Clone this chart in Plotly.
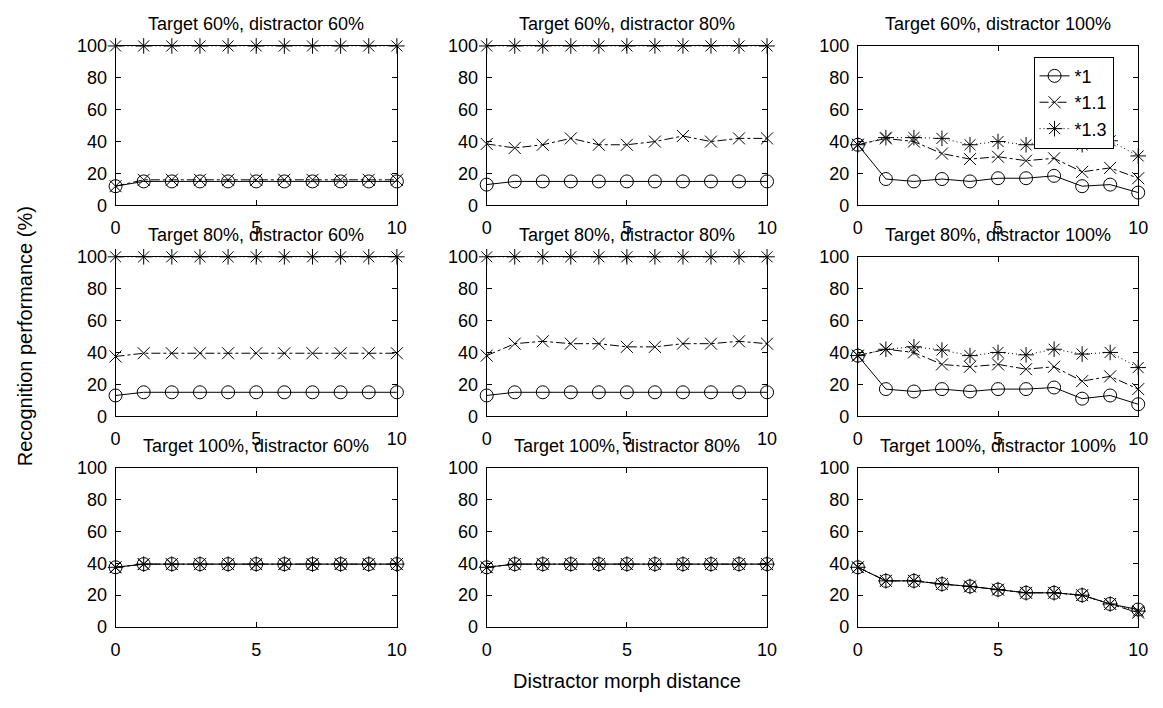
import plotly.graph_objects as go

# ---------------- data ----------------
distance = [0, 1, 2, 3, 4, 5, 6, 7, 8, 9, 10]
series_names = ["*1", "*1.1", "*1.3"]
panel_titles = [
    "Target 60%, distractor 60%", "Target 60%, distractor 80%", "Target 60%, distractor 100%",
    "Target 80%, distractor 60%", "Target 80%, distractor 80%", "Target 80%, distractor 100%",
    "Target 100%, distractor 60%", "Target 100%, distractor 80%", "Target 100%, distractor 100%",
]
x_ticks = [0, 5, 10]
y_ticks = [0, 20, 40, 60, 80, 100]

# Target 60%
t60_d60_s1 = [12, 15, 15, 15, 15, 15, 15, 15, 15, 15, 15]
t60_d60_s11 = [12, 16, 16, 16, 16, 16, 16, 16, 16, 16, 16]
t60_d60_s13 = [100, 100, 100, 100, 100, 100, 100, 100, 100, 100, 100]

t60_d80_s1 = [13, 15, 15, 15, 15, 15, 15, 15, 15, 15, 15]
t60_d80_s11 = [38.5, 36, 38, 42, 38, 38, 40, 43.5, 40, 42, 42]
t60_d80_s13 = [100, 100, 100, 100, 100, 100, 100, 100, 100, 100, 100]

t60_d100_s1 = [38, 16.5, 15, 16.5, 15, 17, 17, 18.5, 12, 13, 8]
t60_d100_s11 = [38, 42, 40, 32.5, 29, 30.5, 28, 29.5, 21, 23.5, 17]
t60_d100_s13 = [38, 42.5, 42.5, 42, 38, 40, 38, 42, 38, 40.5, 31]

# Target 80%
t80_d60_s1 = [13, 15, 15, 15, 15, 15, 15, 15, 15, 15, 15]
t80_d60_s11 = [37.5, 39.5, 39.5, 39.5, 39.5, 39.5, 39.5, 39.5, 39.5, 39.5, 39.5]
t80_d60_s13 = [100, 100, 100, 100, 100, 100, 100, 100, 100, 100, 100]

t80_d80_s1 = [13, 15, 15, 15, 15, 15, 15, 15, 15, 15, 15]
t80_d80_s11 = [38, 45.5, 47, 45.5, 45.5, 43.5, 43.5, 45.5, 45.5, 47, 45.5]
t80_d80_s13 = [100, 100, 100, 100, 100, 100, 100, 100, 100, 100, 100]

t80_d100_s1 = [38, 17, 15.5, 17, 15.5, 17, 17, 18, 11, 13, 7.5]
t80_d100_s11 = [38, 42, 40, 32.5, 31, 32.5, 29.5, 31, 22, 25, 17]
t80_d100_s13 = [38, 42, 43.5, 41.5, 38, 40, 38.5, 42, 39, 40, 30.5]

# Target 100%
t100_d60_s1 = [37.5, 39.5, 39.5, 39.5, 39.5, 39.5, 39.5, 39.5, 39.5, 39.5, 39.5]
t100_d60_s11 = [37.5, 39.5, 39.5, 39.5, 39.5, 39.5, 39.5, 39.5, 39.5, 39.5, 39.5]
t100_d60_s13 = [37.5, 39.5, 39.5, 39.5, 39.5, 39.5, 39.5, 39.5, 39.5, 39.5, 39.5]

t100_d80_s1 = [37.5, 39.5, 39.5, 39.5, 39.5, 39.5, 39.5, 39.5, 39.5, 39.5, 39.5]
t100_d80_s11 = [37.5, 39.5, 39.5, 39.5, 39.5, 39.5, 39.5, 39.5, 39.5, 39.5, 39.5]
t100_d80_s13 = [37.5, 39.5, 39.5, 39.5, 39.5, 39.5, 39.5, 39.5, 39.5, 39.5, 39.5]

t100_d100_s1 = [37.5, 29, 29, 27, 25.5, 23.5, 21.5, 21.5, 20, 14.5, 11]
t100_d100_s11 = [37.5, 29, 29, 27, 25.5, 23.5, 21.5, 21.5, 20, 14.5, 9]
t100_d100_s13 = [37.5, 29, 29, 27, 25.5, 23.5, 21.5, 21.5, 20, 14.5, 10]

panels = [
    (t60_d60_s1, t60_d60_s11, t60_d60_s13),
    (t60_d80_s1, t60_d80_s11, t60_d80_s13),
    (t60_d100_s1, t60_d100_s11, t60_d100_s13),
    (t80_d60_s1, t80_d60_s11, t80_d60_s13),
    (t80_d80_s1, t80_d80_s11, t80_d80_s13),
    (t80_d100_s1, t80_d100_s11, t80_d100_s13),
    (t100_d60_s1, t100_d60_s11, t100_d60_s13),
    (t100_d80_s1, t100_d80_s11, t100_d80_s13),
    (t100_d100_s1, t100_d100_s11, t100_d100_s13),
]

# ---------------- layout geometry (pixels) ----------------
W, H = 1163, 708
col_px = [(112, 397), (488, 772), (864, 1148)]
row_px = [(37, 201), (254, 418), (471, 635)]
FONT = "Liberation Sans, Arial, Helvetica, sans-serif"

styles = [
    dict(symbol="circle-open", size=13, dash="solid"),
    dict(symbol="x-thin-open", size=12, dash="dashdot"),
    dict(symbol="asterisk-open", size=13, dash="1px,3px"),
]

fig = go.Figure()
layout_axes = {}
annotations = []

for i, series in enumerate(panels):
    r, c = divmod(i, 3)
    idx = i + 1
    xa = "x" if idx == 1 else f"x{idx}"
    ya = "y" if idx == 1 else f"y{idx}"
    for s, (vals, st) in enumerate(zip(series, styles)):
        fig.add_trace(go.Scatter(
            x=distance, y=vals, xaxis=xa, yaxis=ya,
            mode="lines+markers",
            name=series_names[s],
            showlegend=(i == 2),
            cliponaxis=False,
            line=dict(color="black", width=1, dash=st["dash"]),
            marker=dict(symbol=st["symbol"], size=st["size"], color="black",
                        line=dict(color="black", width=1)),
        ))
    x0, x1 = col_px[c]
    y0, y1 = row_px[r]
    axis_common = dict(
        showline=True, linecolor="black", linewidth=1, mirror="ticks",
        ticks="inside", ticklen=5, tickcolor="black", tickwidth=1,
        showgrid=False, zeroline=False,
        tickfont=dict(family=FONT, size=18, color="black"),
    )
    layout_axes["xaxis" if idx == 1 else f"xaxis{idx}"] = dict(
        domain=[x0 / W, x1 / W], anchor=ya, range=[0, 10],
        tickvals=x_ticks, ticklabelstandoff=6, **axis_common)
    layout_axes["yaxis" if idx == 1 else f"yaxis{idx}"] = dict(
        domain=[1 - y1 / H, 1 - y0 / H], anchor=xa, range=[0, 100],
        tickvals=y_ticks, ticklabelstandoff=4, **axis_common)
    annotations.append(dict(
        text=panel_titles[i], xref="paper", yref="paper",
        x=(x0 + x1) / 2 / W, y=1 - y0 / H, xanchor="center", yanchor="bottom",
        yshift=10, showarrow=False, font=dict(family=FONT, size=18, color="black")))

annotations.append(dict(
    text="Recognition performance (%)", xref="paper", yref="paper",
    x=20 / W, y=1 - 336 / H, xanchor="center", yanchor="middle", textangle=-90,
    showarrow=False, font=dict(family=FONT, size=20, color="black")))
annotations.append(dict(
    text="Distractor morph distance", xref="paper", yref="paper",
    x=630 / W, y=1 - 690 / H, xanchor="center", yanchor="middle",
    showarrow=False, font=dict(family=FONT, size=20, color="black")))

fig.update_layout(
    width=W, height=H,
    margin=dict(l=0, r=0, t=0, b=0),
    paper_bgcolor="white", plot_bgcolor="white",
    annotations=annotations,
    legend=dict(x=1042 / W, y=1 - 48 / H, xanchor="left", yanchor="top",
                bgcolor="white", bordercolor="black", borderwidth=1,
                font=dict(family=FONT, size=18, color="black"),
                tracegroupgap=0, itemwidth=30),
    **layout_axes,
)

fig.write_html("out.html", config={"displayModeBar": False},
               post_script="document.body.style.margin='0px';")
